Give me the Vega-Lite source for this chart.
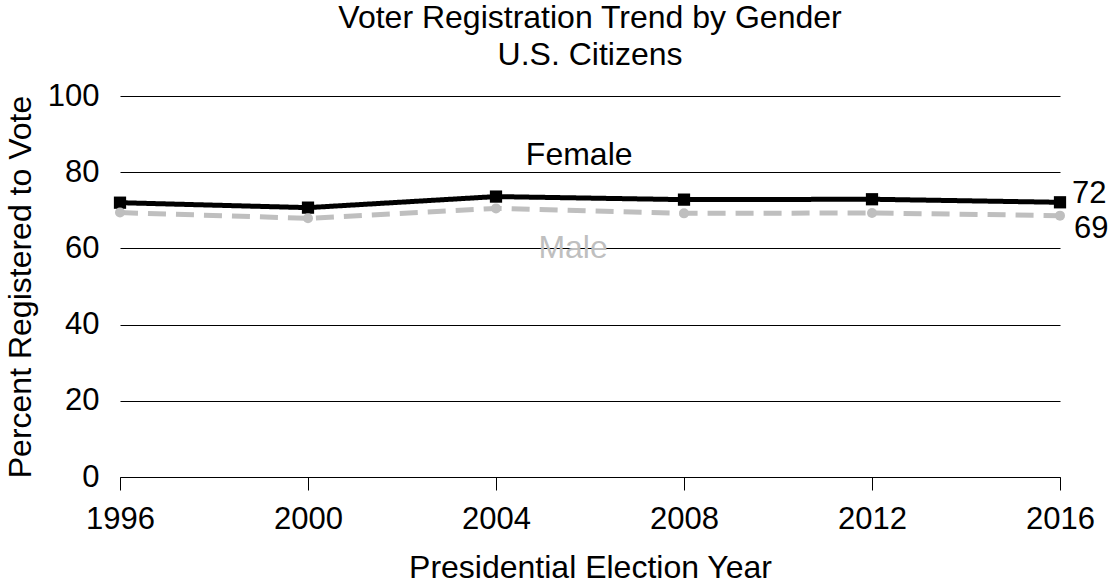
{
  "$schema": "https://vega.github.io/schema/vega-lite/v6.json",
  "width": 940,
  "height": 381,
  "autosize": {"type": "none"},
  "padding": {"left": 120, "top": 96, "right": 52, "bottom": 107},
  "background": "white",
  "config": {
    "font": "Liberation Sans",
    "view": {"stroke": null},
    "axis": {"labelFont": "Liberation Sans", "titleFont": "Liberation Sans", "titleFontWeight": "normal", "labelColor": "black", "titleColor": "black"}
  },
  "title": {
    "text": ["Voter Registration Trend by Gender", "U.S. Citizens"],
    "fontSize": 32,
    "fontWeight": "normal",
    "font": "Liberation Sans",
    "color": "black",
    "anchor": "middle",
    "frame": "group",
    "lineHeight": 37,
    "offset": 8
  },
  "datasets": {
    "series": [
      {"year": 1996, "gender": "Female", "percent": 72.0},
      {"year": 2000, "gender": "Female", "percent": 70.7},
      {"year": 2004, "gender": "Female", "percent": 73.6},
      {"year": 2008, "gender": "Female", "percent": 72.8},
      {"year": 2012, "gender": "Female", "percent": 72.9},
      {"year": 2016, "gender": "Female", "percent": 72.1},
      {"year": 1996, "gender": "Male", "percent": 69.4},
      {"year": 2000, "gender": "Male", "percent": 67.9},
      {"year": 2004, "gender": "Male", "percent": 70.5},
      {"year": 2008, "gender": "Male", "percent": 69.2},
      {"year": 2012, "gender": "Male", "percent": 69.3},
      {"year": 2016, "gender": "Male", "percent": 68.6}
    ],
    "labels": [
      {"year": 2005.77, "percent": 81.9, "gender": "Female"},
      {"year": 2005.64, "percent": 57.5, "gender": "Male"}
    ]
  },
  "layer": [
    {
      "data": {"name": "series"},
      "mark": {"type": "line", "strokeWidth": 5},
      "encoding": {
        "x": {
          "field": "year", "type": "quantitative",
          "scale": {"domain": [1996, 2016], "nice": false, "zero": false},
          "axis": {
            "values": [1996, 2000, 2004, 2008, 2012, 2016],
            "format": "d",
            "grid": false,
            "labelFontSize": 31,
            "tickSize": 13,
            "tickColor": "black",
            "tickWidth": 1,
            "domainColor": "black",
            "domainWidth": 1,
            "labelPadding": 14,
            "labelFlush": false,
            "title": "Presidential Election Year",
            "titleFontSize": 32,
            "titlePadding": 18
          }
        },
        "y": {
          "field": "percent", "type": "quantitative",
          "scale": {"domain": [0, 100], "nice": false},
          "axis": {
            "values": [0, 20, 40, 60, 80, 100],
            "grid": true,
            "gridColor": "black",
            "gridWidth": 1,
            "domain": false,
            "ticks": false,
            "labelFontSize": 31,
            "labelPadding": 21,
            "title": "Percent Registered to Vote",
            "titleFontSize": 32,
            "titlePadding": 10
          }
        },
        "color": {
          "field": "gender", "type": "nominal",
          "scale": {"domain": ["Female", "Male"], "range": ["black", "#bfbfbf"]},
          "legend": null
        },
        "strokeDash": {
          "field": "gender", "type": "nominal",
          "scale": {"domain": ["Female", "Male"], "range": [[1, 0], [18, 10]]},
          "legend": null
        }
      }
    },
    {
      "data": {"name": "series"},
      "mark": {"type": "point", "filled": true, "opacity": 1},
      "encoding": {
        "x": {"field": "year", "type": "quantitative"},
        "y": {"field": "percent", "type": "quantitative"},
        "color": {"field": "gender", "type": "nominal", "legend": null},
        "shape": {
          "field": "gender", "type": "nominal",
          "scale": {"domain": ["Female", "Male"], "range": ["square", "circle"]},
          "legend": null
        },
        "size": {
          "field": "gender", "type": "nominal",
          "scale": {"domain": ["Female", "Male"], "range": [150, 100]},
          "legend": null
        }
      }
    },
    {
      "data": {"name": "series"},
      "transform": [{"filter": "datum.year == 2016 && datum.gender == 'Female'"}],
      "mark": {"type": "text", "align": "left", "baseline": "alphabetic", "fontSize": 31, "dx": 12, "dy": 1, "color": "black"},
      "encoding": {
        "x": {"field": "year", "type": "quantitative"},
        "y": {"field": "percent", "type": "quantitative"},
        "text": {"field": "percent", "type": "quantitative", "format": ".0f"}
      }
    },
    {
      "data": {"name": "series"},
      "transform": [{"filter": "datum.year == 2016 && datum.gender == 'Male'"}],
      "mark": {"type": "text", "align": "left", "baseline": "alphabetic", "fontSize": 31, "dx": 14, "dy": 22, "color": "black"},
      "encoding": {
        "x": {"field": "year", "type": "quantitative"},
        "y": {"field": "percent", "type": "quantitative"},
        "text": {"field": "percent", "type": "quantitative", "format": ".0f"}
      }
    },
    {
      "data": {"name": "labels"},
      "mark": {"type": "text", "align": "center", "baseline": "alphabetic", "fontSize": 32},
      "encoding": {
        "x": {"field": "year", "type": "quantitative"},
        "y": {"field": "percent", "type": "quantitative"},
        "text": {"field": "gender", "type": "nominal"},
        "color": {"field": "gender", "type": "nominal", "legend": null}
      }
    }
  ]
}
